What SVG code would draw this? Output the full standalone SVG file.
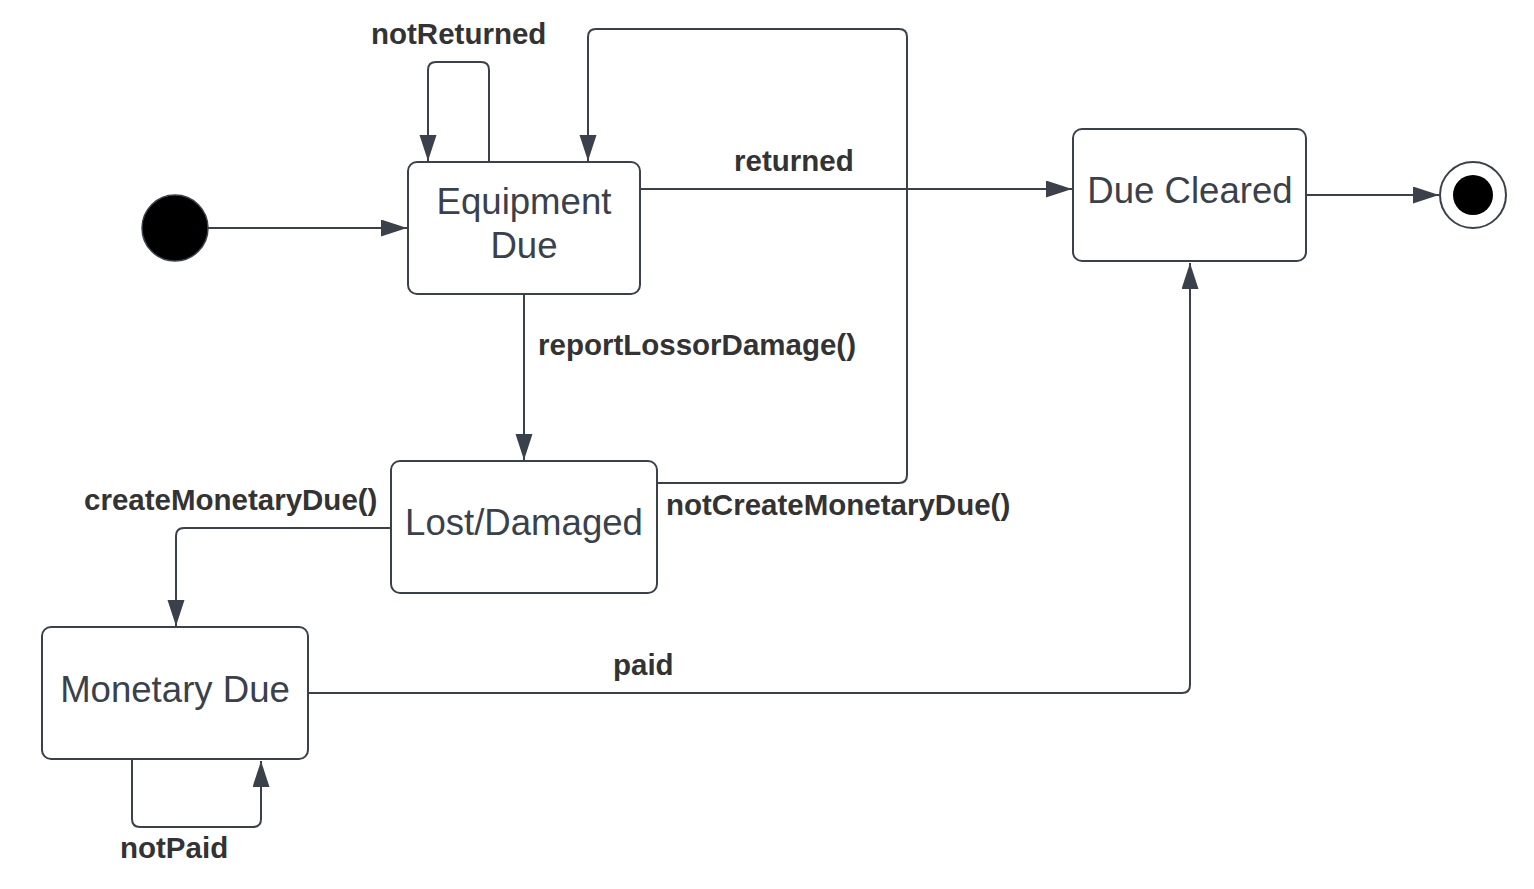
<svg xmlns="http://www.w3.org/2000/svg" width="1534" height="889" viewBox="0 0 1534 889">
<style>
.box{fill:#ffffff;stroke:#3a414a;stroke-width:2}
.ntext{font-family:"Liberation Sans",Arial,sans-serif;font-size:36.6px;fill:#3a414a;text-anchor:middle}
.lbl{font-family:"Liberation Sans",Arial,sans-serif;font-size:29.5px;font-weight:bold;fill:#333333}
.conn{fill:none;stroke:#3a414a;stroke-width:2}
</style>
<defs>
<marker id="arr" markerUnits="userSpaceOnUse" markerWidth="28" markerHeight="18" refX="26" refY="8.5" orient="auto">
<path d="M0,0 L26,8.5 L0,17 Z" fill="#3a414a"/>
</marker>
</defs>
<rect width="1534" height="889" fill="#ffffff"/>
<g id="connectors">
<path class="conn" d="M208,228 H407" marker-end="url(#arr)"/>
<path class="conn" d="M489,161 V70 Q489,62 481,62 H436 Q428,62 428,70 V161" marker-end="url(#arr)"/>
<path class="conn" d="M641,189 H1072" marker-end="url(#arr)"/>
<path class="conn" d="M658,483 H899 Q907,483 907,475 V37 Q907,29 899,29 H596 Q588,29 588,37 V161" marker-end="url(#arr)"/>
<path class="conn" d="M524,295 V460" marker-end="url(#arr)"/>
<path class="conn" d="M391,528 H184 Q176,528 176,536 V626" marker-end="url(#arr)"/>
<path class="conn" d="M132,760 V819 Q132,827 140,827 H253 Q261,827 261,819 V761" marker-end="url(#arr)"/>
<path class="conn" d="M308,693 H1182 Q1190,693 1190,685 V263" marker-end="url(#arr)"/>
<path class="conn" d="M1307,195 H1439" marker-end="url(#arr)"/>
<text class="lbl" x="371" y="44">notReturned</text>
<text class="lbl" x="734" y="171">returned</text>
<text class="lbl" x="538" y="355">reportLossorDamage()</text>
<text class="lbl" x="84" y="510">createMonetaryDue()</text>
<text class="lbl" x="666" y="515">notCreateMonetaryDue()</text>
<text class="lbl" x="613" y="675">paid</text>
<text class="lbl" x="120" y="858">notPaid</text>
</g>
<g id="initial">
<circle cx="175" cy="228" r="33" fill="#000000" stroke="#3a414a" stroke-width="1.5"/>
</g>
<g id="equipmentDue">
<rect class="box" x="408" y="162" width="232" height="132" rx="9"/>
<text class="ntext" x="524" y="214">Equipment</text>
<text class="ntext" x="524" y="258">Due</text>
</g>
<g id="dueCleared">
<rect class="box" x="1073" y="129" width="233" height="132" rx="9"/>
<text class="ntext" x="1190" y="203">Due Cleared</text>
</g>
<g id="lostDamaged">
<rect class="box" x="391" y="461" width="266" height="132" rx="9"/>
<text class="ntext" x="524" y="535">Lost/Damaged</text>
</g>
<g id="monetaryDue">
<rect class="box" x="42" y="627" width="266" height="132" rx="9"/>
<text class="ntext" x="175" y="702">Monetary Due</text>
</g>
<g id="final">
<circle cx="1473" cy="195" r="33" fill="#ffffff" stroke="#3a414a" stroke-width="2"/>
<circle cx="1473" cy="195" r="20" fill="#000000"/>
</g>
</svg>
